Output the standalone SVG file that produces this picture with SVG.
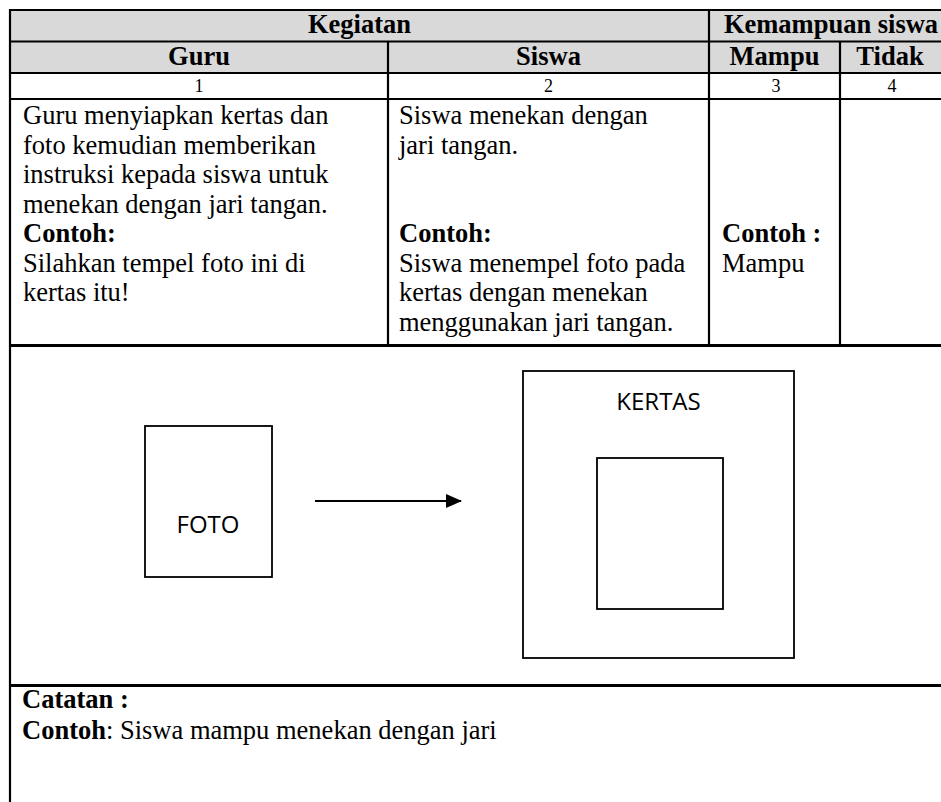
<svg xmlns="http://www.w3.org/2000/svg" width="941" height="802" viewBox="0 0 941 802">
  <defs>
    <style>
      .bg { fill: #ffffff; }
      .hdr { fill: #d9d9d9; }
      .grid { stroke: #000000; stroke-width: 2.2; fill: none; }
      .thick { stroke: #000000; stroke-width: 3; fill: none; }
      .t { font-family: "Liberation Serif", "Times New Roman", serif; font-size: 26.5px; fill: #000000; }
      .b { font-weight: bold; }
      .num { font-family: "Liberation Serif", "Times New Roman", serif; font-size: 18px; fill: #000000; text-anchor: middle; }
      .c { text-anchor: middle; }
      .shape { fill: #ffffff; stroke: #000000; stroke-width: 1.8; }
      .lbl { font-family: "Open Sans", "Noto Sans", sans-serif; font-size: 24px; fill: #000000; text-anchor: middle; }
      .conn { stroke: #000000; stroke-width: 2.2; fill: none; }
    </style>
    <marker id="arrowhead" markerWidth="16" markerHeight="14" refX="15" refY="7" orient="auto" markerUnits="userSpaceOnUse">
      <polygon points="0,0 16,7 0,14" fill="#000000"/>
    </marker>
  </defs>

  <rect class="bg" x="0" y="0" width="941" height="802"/>

  <g id="table">
    <rect class="hdr" x="10" y="10" width="940" height="63"/>

    <!-- horizontal lines -->
    <line class="grid" x1="9" y1="10" x2="941" y2="10"/>
    <line class="grid" x1="9" y1="41.5" x2="941" y2="41.5"/>
    <line class="grid" x1="9" y1="73" x2="941" y2="73"/>
    <line class="grid" x1="9" y1="99" x2="941" y2="99"/>
    <line class="thick" x1="9" y1="345.5" x2="941" y2="345.5"/>
    <line class="thick" x1="9" y1="685.5" x2="941" y2="685.5"/>

    <!-- vertical lines -->
    <line class="grid" x1="10" y1="9" x2="10" y2="802"/>
    <line class="grid" x1="388" y1="41.5" x2="388" y2="345"/>
    <line class="grid" x1="709" y1="9" x2="709" y2="345"/>
    <line class="grid" x1="840" y1="41.5" x2="840" y2="345"/>

    <!-- header text -->
    <text class="t b c" x="359.5" y="33">Kegiatan</text>
    <text class="t b c" x="831" y="33">Kemampuan siswa</text>
    <text class="t b c" x="199" y="65">Guru</text>
    <text class="t b c" x="548.5" y="65">Siswa</text>
    <text class="t b c" x="774.5" y="65">Mampu</text>
    <text class="t b c" x="890" y="65">Tidak</text>

    <text class="num" x="199" y="92">1</text>
    <text class="num" x="548.5" y="92">2</text>
    <text class="num" x="776" y="92">3</text>
    <text class="num" x="892" y="92">4</text>

    <!-- Guru column -->
    <text class="t" x="23" y="124">Guru menyiapkan kertas dan</text>
    <text class="t" x="23" y="153.5">foto kemudian memberikan</text>
    <text class="t" x="23" y="183">instruksi kepada siswa untuk</text>
    <text class="t" x="23" y="212.5">menekan dengan jari tangan.</text>
    <text class="t b" x="23" y="242">Contoh:</text>
    <text class="t" x="23" y="271.5">Silahkan tempel foto ini di</text>
    <text class="t" x="23" y="301">kertas itu!</text>

    <!-- Siswa column -->
    <text class="t" x="399" y="124">Siswa menekan dengan</text>
    <text class="t" x="399" y="153.5">jari tangan.</text>
    <text class="t b" x="399" y="242">Contoh:</text>
    <text class="t" x="399" y="271.5">Siswa menempel foto pada</text>
    <text class="t" x="399" y="301">kertas dengan menekan</text>
    <text class="t" x="399" y="330.5">menggunakan jari tangan.</text>

    <!-- Mampu column -->
    <text class="t b" x="722" y="242">Contoh :</text>
    <text class="t" x="722" y="271.5">Mampu</text>

    <!-- Catatan -->
    <text class="t b" x="22" y="708">Catatan :</text>
    <text class="t" x="22" y="739"><tspan class="b">Contoh</tspan>: Siswa mampu menekan dengan jari</text>
  </g>

  <!-- diagram nodes -->
  <g id="node-foto">
    <rect class="shape" x="145" y="426" width="127" height="151"/>
    <text class="lbl" x="208" y="533">FOTO</text>
  </g>

  <g id="node-kertas">
    <rect class="shape" x="523" y="371" width="271" height="287"/>
    <text class="lbl" x="658.5" y="410">KERTAS</text>
  </g>

  <g id="node-kertas-inner">
    <rect class="shape" x="597" y="458" width="126" height="151"/>
  </g>

  <!-- connectors -->
  <g id="connectors">
    <line class="conn" x1="315" y1="501" x2="461" y2="501" marker-end="url(#arrowhead)"/>
  </g>
</svg>
